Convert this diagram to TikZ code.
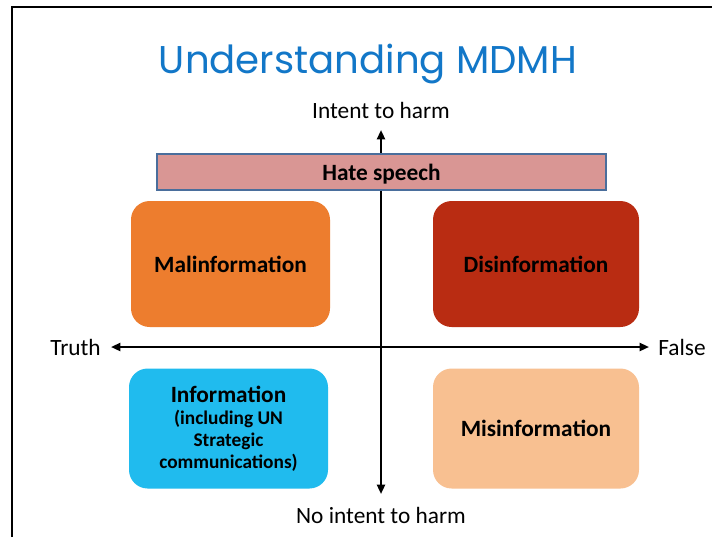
\documentclass[tikz,border=0pt]{standalone}
\usepackage{fontspec}
\setmainfont{Carlito}
\newfontfamily\titlefont{Poppins}
\usetikzlibrary{arrows.meta}
\definecolor{titleblue}{HTML}{1277C8}
\definecolor{malc}{HTML}{ED7D2E}
\definecolor{disc}{HTML}{B92C12}
\definecolor{misc}{HTML}{F8C091}
\definecolor{infc}{HTML}{20BBEE}
\definecolor{hatec}{HTML}{D99694}
\definecolor{hateb}{HTML}{4A6E9C}
\newcommand{\subfs}{\fontsize{14.5}{16.5}\selectfont}
\begin{document}
\begin{tikzpicture}[x=0.75pt,y=-0.75pt,
  quad/.style={rounded corners=14pt, inner sep=0pt, font=\fontsize{17.5}{20}\selectfont\bfseries, align=center},
  axis/.style={line width=1.6pt, {Triangle[length=7pt,width=6pt]}-{Triangle[length=7pt,width=6pt]}},
  lbl/.style={font=\fontsize{17.5}{20}\selectfont, inner sep=0pt}]
\useasboundingbox (0,0) rectangle (712,537);
\fill[white] (0,0) rectangle (712,537);
\draw[line width=2.2pt] (12,537) -- (12,7) -- (712,7);
\node[font=\titlefont\fontsize{29}{34}\selectfont, text=titleblue, inner sep=0pt] (title) at (368,64) {Understanding MDMH};
\node[lbl] (top) at (381,110) {Intent to harm};
\node[lbl] (bot) at (381,515) {No intent to harm};
\node[lbl, anchor=east] (truth) at (101,347) {Truth};
\node[lbl, anchor=west] (false) at (658,347) {False};
\coordinate (vt) at (381,130);
\coordinate (vb) at (381,494);
\coordinate (hl) at (111,347);
\coordinate (hr) at (649,347);
\draw[axis] (vb) -- (vt);
\draw[axis] (hl) -- (hr);
\node[draw=hateb, line width=0.9pt, fill=hatec, minimum width=449*0.75pt, minimum height=36*0.75pt, inner sep=0pt, text height=16.5pt, text depth=4pt, font=\fontsize{17.5}{20}\selectfont\bfseries] (hate) at (381.5,172) {Hate speech};
\node[quad, fill=malc, minimum width=199*0.75pt, minimum height=126*0.75pt] (mal) at (230.5,264) {Malinformation};
\node[quad, fill=disc, minimum width=206*0.75pt, minimum height=126*0.75pt] (dis) at (536,264) {Disinformation};
\node[quad, fill=infc, minimum width=199*0.75pt, minimum height=120*0.75pt] (inf) at (228.5,428.5) {\raisebox{-2pt}{Information}\\[-1.5pt]\subfs(including UN\\[-3.5pt]\subfs Strategic\\[-3.5pt]\subfs communications)};
\node[quad, fill=misc, minimum width=206*0.75pt, minimum height=120*0.75pt] (mis) at (536,428.5) {Misinformation};
\end{tikzpicture}
\end{document}
